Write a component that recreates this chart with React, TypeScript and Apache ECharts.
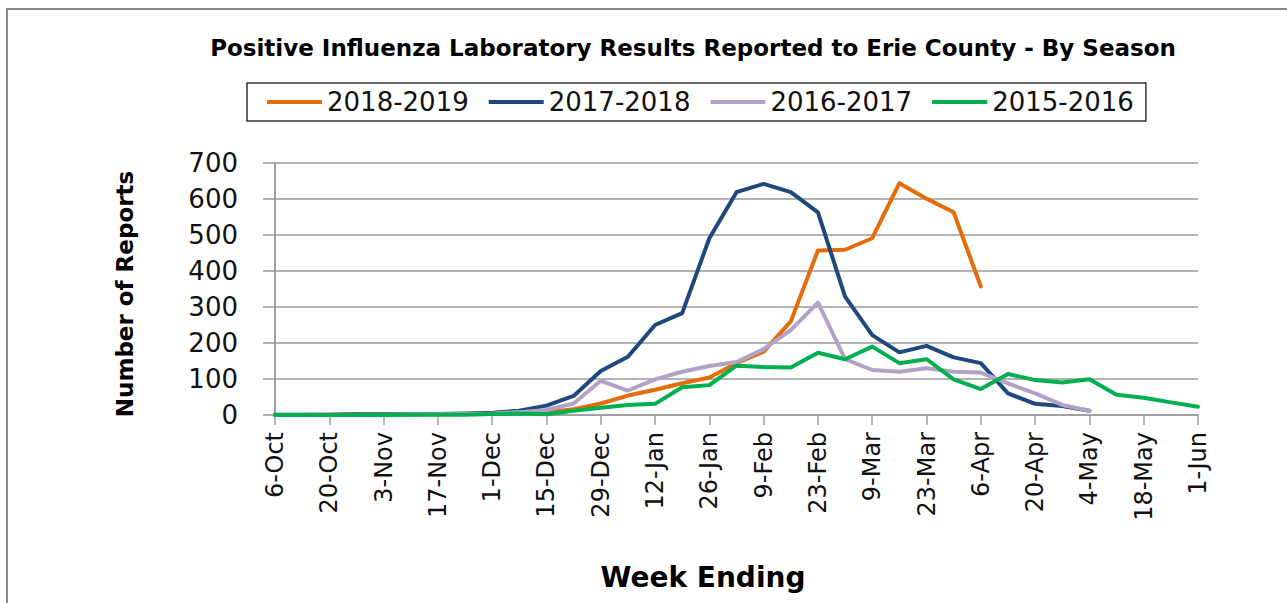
import React, { useEffect, useRef } from "react";
import * as echarts from "echarts";

const weeks = [
  "6-Oct", "13-Oct", "20-Oct", "27-Oct", "3-Nov", "10-Nov", "17-Nov", "24-Nov",
  "1-Dec", "8-Dec", "15-Dec", "22-Dec", "29-Dec", "5-Jan", "12-Jan", "19-Jan",
  "26-Jan", "2-Feb", "9-Feb", "16-Feb", "23-Feb", "2-Mar", "9-Mar", "16-Mar",
  "23-Mar", "30-Mar", "6-Apr", "13-Apr", "20-Apr", "27-Apr", "4-May", "11-May",
  "18-May", "25-May", "1-Jun",
];

const seasonNames = ["2018-2019", "2017-2018", "2016-2017", "2015-2016"];
const seasonColors = ["#E46C0A", "#1F497D", "#B3A2C7", "#00B050"];

const s2018_2019 = [0, 0, 1, 2, 2, 2, 3, 3, 4, 5, 8, 16, 32, 54, 70, 88, 104, 144, 176, 260, 457, 459, 491, 644, 601, 563, 357,
  null, null, null, null, null, null, null, null];
const s2017_2018 = [1, 1, 1, 2, 2, 2, 3, 4, 6, 12, 26, 53, 122, 162, 250, 283, 491, 619, 642, 619, 563, 329, 222, 174, 192, 160, 144, 60, 31, 25, 12,
  null, null, null, null];
const s2016_2017 = [0, 0, 1, 1, 1, 2, 2, 3, 4, 8, 14, 32, 95, 68, 99, 120, 136, 147, 183, 236, 312, 155, 125, 120, 130, 120, 118, 88, 60, 28, 12,
  null, null, null, null];
const s2015_2016 = [0, 0, 0, 0, 0, 1, 1, 1, 3, 4, 2, 12, 20, 28, 31, 77, 83, 137, 133, 132, 173, 155, 190, 144, 155, 99, 72, 114, 97, 90, 99, 56, 48, 35, 23];

const seasonData = [s2018_2019, s2017_2018, s2016_2017, s2015_2016];

const yTicks = { min: 0, max: 700, interval: 100 };

export default function App() {
  const ref = useRef<HTMLDivElement>(null);
  useEffect(() => {
    if (!ref.current) return;
    const chart = echarts.init(ref.current, null, { renderer: "svg" });
    const font = "DejaVu Sans";
    chart.setOption({
      animation: false,
      backgroundColor: "#ffffff",
      graphic: [
        {
          type: "rect",
          x: 7,
          y: 9,
          shape: { x: 0, y: 0, width: 1300, height: 620 },
          style: { fill: "none", stroke: "#888888", lineWidth: 2 },
          silent: true,
        },
        {
          type: "text",
          x: 693,
          y: 48,
          style: {
            text: "Positive Influenza Laboratory Results Reported to Erie County - By Season",
            font: `bold 23px "${font}"`,
            fill: "#000000",
            align: "center",
            verticalAlign: "middle",
          },
        },
        {
          type: "text",
          x: 125,
          y: 294,
          rotation: Math.PI / 2,
          style: {
            text: "Number of Reports",
            font: `bold 23px "${font}"`,
            fill: "#000000",
            align: "center",
            verticalAlign: "middle",
          },
        },
        {
          type: "text",
          x: 703,
          y: 577,
          style: {
            text: "Week Ending",
            font: `bold 28px "${font}"`,
            fill: "#000000",
            align: "center",
            verticalAlign: "middle",
          },
        },
      ],
      legend: {
        data: seasonNames,
        left: 247,
        top: 83,
        icon: "rect",
        itemWidth: 55,
        itemHeight: 4,
        itemGap: 20,
        padding: [4, 12, 4, 20],
        borderColor: "#333333",
        borderWidth: 1.5,
        textStyle: { fontFamily: font, fontSize: 26, color: "#111111", lineHeight: 30 },
      },
      grid: { left: 275, right: 89, top: 163, bottom: 188, containLabel: false },
      xAxis: {
        type: "category",
        data: weeks,
        boundaryGap: false,
        axisLine: { lineStyle: { color: "#a0a0a0", width: 2 } },
        axisTick: { show: true, interval: 1, length: 10, lineStyle: { color: "#a0a0a0", width: 1.5 } },
        axisLabel: {
          interval: 1,
          rotate: 90,
          margin: 17,
          fontFamily: font,
          fontSize: 24,
          color: "#111111",
        },
        splitLine: { show: false },
      },
      yAxis: {
        type: "value",
        min: yTicks.min,
        max: yTicks.max,
        interval: yTicks.interval,
        axisLine: { show: true, lineStyle: { color: "#a0a0a0", width: 2 } },
        axisTick: { show: true, length: 12, lineStyle: { color: "#999999", width: 1.5 } },
        axisLabel: { fontFamily: font, fontSize: 26, color: "#111111", margin: 37 },
        splitLine: { show: true, lineStyle: { color: "#999999", width: 1.5 } },
      },
      series: seasonNames.map((name, i) => ({
        name,
        type: "line",
        data: seasonData[i],
        showSymbol: false,
        symbol: "none",
        connectNulls: false,
        lineStyle: { color: seasonColors[i], width: 4, join: "round", cap: "round" },
        itemStyle: { color: seasonColors[i] },
        z: 2 + i,
      })),
    });
    return () => chart.dispose();
  }, []);
  return (
    <div
      ref={ref}
      style={{ position: "fixed", left: 0, top: 0, width: 1287, height: 603, background: "#fff" }}
    />
  );
}
